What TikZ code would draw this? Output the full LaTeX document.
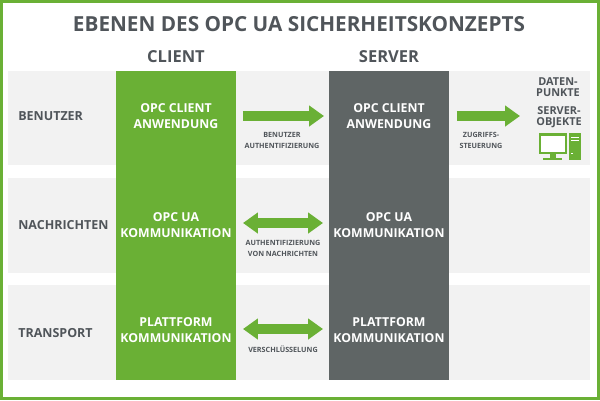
\documentclass[tikz,border=0pt]{standalone}
\usepackage{fontspec}
\setmainfont{Open Sans}
\usepackage{tikz}
\usetikzlibrary{arrows.meta}
\definecolor{opcgreen}{RGB}{106,176,53}
\definecolor{opcgrey}{RGB}{95,101,101}
\definecolor{opctext}{RGB}{80,85,90}
\definecolor{opcband}{RGB}{242,242,242}
\tikzset{
	lbl/.style={font=\bfseries\fontsize{7.1}{10}\selectfont, text=opctext, align=center, inner sep=0pt},
	inlbl/.style={font=\bfseries\fontsize{7}{9.3}\selectfont, text=white, align=center, inner sep=0pt},
	small/.style={font=\bfseries\fontsize{4.1}{6.5}\selectfont, text=opctext, align=center, inner sep=0pt},
	head/.style={font=\bfseries\fontsize{9.4}{11}\selectfont, text=opctext, inner sep=0pt},
	flow/.style={line width=5.6pt, draw=opcgreen, -{Triangle[length=8.5pt,width=11.5pt]}},
	flowboth/.style={line width=5.6pt, draw=opcgreen, {Triangle[length=8.5pt,width=11.5pt]}-{Triangle[length=8.5pt,width=11.5pt]}}
}
\begin{document}
\begin{tikzpicture}[x=0.02cm,y=-0.02cm]
\useasboundingbox (0,0) rectangle (600,400);
\draw [opcgreen, line width=1.7pt] (1.5,1.5) rectangle (598.5,398.5);
\node [head, font=\bfseries\fontsize{11.8}{14}\selectfont] (title) at (299,24) {EBENEN DES OPC UA SICHERHEITSKONZEPTS};

% bands
\fill [opcband] (8,71) rectangle (590,165);
\fill [opcband] (8,178) rectangle (590,273);
\fill [opcband] (8,285) rectangle (590,380);

% columns
\fill [opcgreen] (116,71) rectangle (236,380);
\fill [opcgrey] (329,71) rectangle (449,380);
\node [head] (client) at (176,57) {CLIENT};
\node [head] (server) at (389,57) {SERVER};

\node [lbl, anchor=west] (benutzer) at (18,116) {BENUTZER};
\node [lbl, anchor=west] (nachrichten) at (18,225) {NACHRICHTEN};
\node [lbl, anchor=west] (transport) at (18,333) {TRANSPORT};

\foreach \n/\x in {c/176,s/389}
	{\node [inlbl] (\n app) at (\x,116) {OPC CLIENT\\ANWENDUNG};
	\node [inlbl] (\n ua) at (\x,225) {OPC UA\\KOMMUNIKATION};
	\node [inlbl] (\n plat) at (\x,330) {PLATTFORM\\KOMMUNIKATION};}

% arrows
\coordinate (a1) at (243,116);
\coordinate (b1) at (324,116);
\coordinate (a2) at (243,223);
\coordinate (b2) at (323,223);
\coordinate (a3) at (243,329);
\coordinate (b3) at (323,329);
\coordinate (a4) at (457,116);
\coordinate (b4) at (520,116);
\draw [flow] (a1) to (b1);
\draw [flow] (a4) to (b4);
\draw [flowboth] (a2) to (b2);
\draw [flowboth] (a3) to (b3);

\node [small] (auth) at (282,140.5) {BENUTZER\\AUTHENTIFIZIERUNG};
\node [small] (zugriff) at (481,140.5) {ZUGRIFFS-\\STEUERUNG};
\node [small] (nachr) at (283,248.5) {AUTHENTIFIZIERUNG\\VON NACHRICHTEN};
\node [small] (versch) at (283,349) {VERSCHLÜSSELUNG};

\node [lbl, font=\bfseries\fontsize{6.2}{6.4}\selectfont] (daten) at (558,87.5) {DATEN-\\PUNKTE};
\node [lbl, font=\bfseries\fontsize{6.2}{6.4}\selectfont] (objekte) at (559,117.5) {SERVER-\\OBJEKTE};

% monitor and tower
\draw [opcgreen, line width=1.5pt, fill=white] (540,134.5) rectangle (566,153);
\fill [opcgreen] (550,153) rectangle (556,158);
\fill [opcgreen] (543,157.5) rectangle (562,159.5);
\fill [opcgreen] (569,133) rectangle (581,159.5);
\draw [white, line width=0.4pt] (571,137) to (579,137);
\draw [white, line width=0.4pt] (571,140) to (579,140);
\fill [white] (571,153) rectangle (573,154);
\end{tikzpicture}
\end{document}
